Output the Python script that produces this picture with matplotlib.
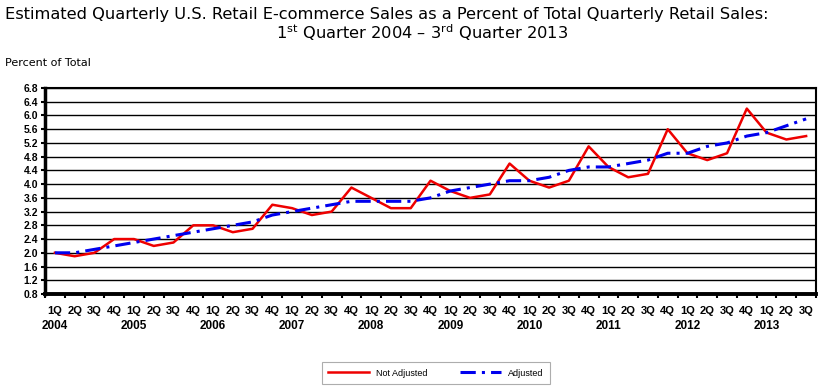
import numpy as np
import matplotlib
matplotlib.use('Agg')
import matplotlib.pyplot as plt

plt.rcParams['mathtext.default'] = 'regular'

# quarters 1Q 2004 .. 3Q 2013
quarters = ['1Q', '2Q', '3Q', '4Q'] * 9 + ['1Q', '2Q', '3Q']
years = ['2004', '2005', '2006', '2007', '2008', '2009', '2010', '2011', '2012', '2013']

not_adjusted = [2.0, 1.9, 2.0, 2.4,
                2.4, 2.2, 2.3, 2.8,
                2.8, 2.6, 2.7, 3.4,
                3.3, 3.1, 3.2, 3.9,
                3.6, 3.3, 3.3, 4.1,
                3.8, 3.6, 3.7, 4.6,
                4.1, 3.9, 4.1, 5.1,
                4.5, 4.2, 4.3, 5.6,
                4.9, 4.7, 4.9, 6.2,
                5.5, 5.3, 5.4]
adjusted = [2.0, 2.0, 2.1, 2.2,
            2.3, 2.4, 2.5, 2.6,
            2.7, 2.8, 2.9, 3.1,
            3.2, 3.3, 3.4, 3.5,
            3.5, 3.5, 3.5, 3.6,
            3.8, 3.9, 4.0, 4.1,
            4.1, 4.2, 4.4, 4.5,
            4.5, 4.6, 4.7, 4.9,
            4.9, 5.1, 5.2, 5.4,
            5.5, 5.7, 5.9]
yticks = [0.8, 1.2, 1.6, 2.0, 2.4, 2.8, 3.2, 3.6, 4.0, 4.4, 4.8, 5.2, 5.6, 6.0, 6.4, 6.8]

x = np.arange(len(quarters))

fig = plt.figure(figsize=(8.22, 3.89), dpi=100)
ax = fig.add_axes([45/822, 1-294/389, (816-45)/822, (294-88)/389])

ax.plot(x, not_adjusted, color='#ee0000', lw=1.8, label='Not Adjusted', zorder=3)
ax.plot(x, adjusted, color='#0000ee', lw=2.2, dashes=(5, 2, 1, 2), label='Adjusted', zorder=4)

ax.set_xlim(-0.5, len(quarters) - 0.5)
ax.set_ylim(0.8, 6.8)
ax.set_yticks(yticks)
ax.set_yticklabels(['%.1f' % v for v in yticks], fontsize=7.5, fontweight='bold', family='Liberation Sans')
ax.yaxis.grid(True, color='black', lw=1.0)
ax.set_axisbelow(True)

ax.set_xticks(np.arange(-0.5, len(quarters), 1.0))
ax.set_xticklabels([])
ax.tick_params(axis='x', length=3, width=1.5, direction='out')
ax.tick_params(axis='y', length=3, width=1.5, direction='out', pad=2)
for i, q in enumerate(quarters):
    ax.text(i, -0.06, q, transform=ax.get_xaxis_transform(), ha='center', va='top',
            fontsize=8, fontweight='bold', family='Liberation Sans')
for k, yr in enumerate(years):
    ax.text(k * 4, -0.125, yr, transform=ax.get_xaxis_transform(), ha='center', va='top',
            fontsize=8.5, fontweight='bold', family='Liberation Sans')

ax.spines['left'].set_linewidth(2.5)
ax.spines['bottom'].set_linewidth(2.8)
ax.spines['right'].set_linewidth(1.5)
ax.spines['top'].set_linewidth(1.5)

fig.text(5/822, 1-15/389, 'Estimated Quarterly U.S. Retail E-commerce Sales as a Percent of Total Quarterly Retail Sales:',
         ha='left', va='center', fontsize=11.7, family='DejaVu Sans Condensed')
fig.text(422/822, 1-33/389, '1$^{st}$ Quarter 2004 \u2013 3$^{rd}$ Quarter 2013',
         ha='center', va='center', fontsize=11.7, family='DejaVu Sans Condensed')
fig.text(5/822, 1-63/389, 'Percent of Total', ha='left', va='center', fontsize=8,
         family='DejaVu Sans Condensed')

leg = fig.legend(loc='center', bbox_to_anchor=(436/822, 1-373/389), ncol=2, frameon=True,
                 fancybox=False, edgecolor='#999999', prop={'family': 'Liberation Sans', 'size': 6.5},
                 handlelength=4.5, columnspacing=3.6, borderpad=0.7)
leg.get_frame().set_linewidth(0.8)

fig.savefig('out.png', dpi=100)
